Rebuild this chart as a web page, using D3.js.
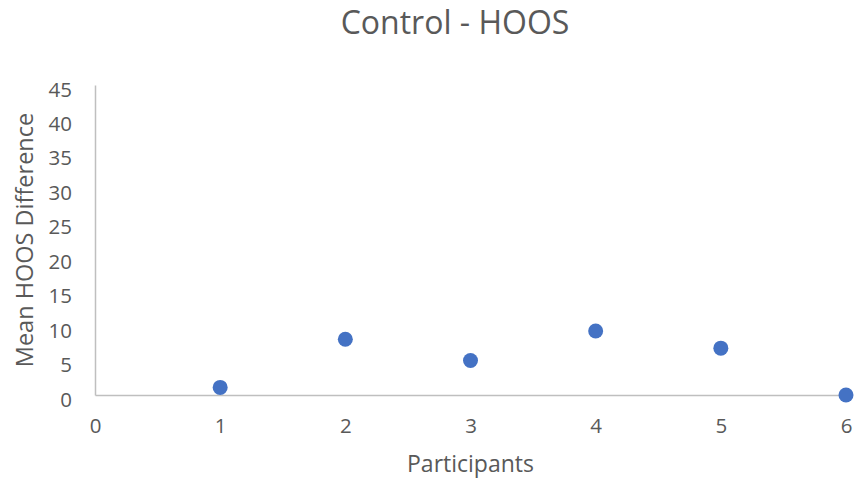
<!DOCTYPE html>
<html>
<head>
<meta charset="utf-8">
<script src="https://cdn.jsdelivr.net/npm/d3@7"></script>
<style>
  body { margin: 0; background: #fff; }
  svg { display: block; font-family: "Open Sans", sans-serif; }
</style>
</head>
<body>
<div id="chart"></div>
<script>
const participants = [1, 2, 3, 4, 5, 6];
const meanDiff = [1.1, 8.1, 5.0, 9.3, 6.8, 0.0];
const xTicks = [0, 1, 2, 3, 4, 5, 6];
const yTicks = [0, 5, 10, 15, 20, 25, 30, 35, 40, 45];

const width = 855;
const height = 482;
const margin = { top: 85, right: 9, bottom: 87, left: 95 };

const svg = d3.select("#chart").append("svg").attr("width", width).attr("height", height);

const x = d3.scaleLinear().domain([0, 6]).range([margin.left, width - margin.right]);
const y = d3.scaleLinear().domain([0, 45]).range([height - margin.bottom, margin.top]);

// y axis
const yAxis = svg.append("g")
  .attr("transform", `translate(${margin.left},0)`)
  .call(d3.axisLeft(y).tickValues(yTicks).tickFormat(d3.format("d")).tickSize(0).tickSizeOuter(0).tickPadding(23));
yAxis.select(".domain").attr("stroke", "#bfbfbf").attr("stroke-width", 1.5);
yAxis.selectAll("text")
  .attr("fill", "#595959")
  .attr("font-size", 20.5)
  .attr("font-family", "Open Sans")
  .attr("dy", 11);

// x axis
const xAxis = svg.append("g")
  .attr("transform", `translate(0,${height - margin.bottom})`)
  .call(d3.axisBottom(x).tickValues(xTicks).tickFormat(d3.format("d")).tickSize(0).tickSizeOuter(0));
xAxis.select(".domain").attr("stroke", "#bfbfbf").attr("stroke-width", 1.5);
xAxis.selectAll("text")
  .attr("fill", "#595959")
  .attr("font-size", 20.5)
  .attr("font-family", "Open Sans")
  .attr("y", 38)
  .attr("dy", 0);

// points
svg.append("g")
  .selectAll("circle")
  .data(participants)
  .join("circle")
  .attr("cx", (d) => x(d))
  .attr("cy", (d, i) => y(meanDiff[i]))
  .attr("r", 7.5)
  .attr("fill", "#4472c4");

// title
svg.append("text")
  .attr("x", 455)
  .attr("y", 33.5)
  .attr("text-anchor", "middle")
  .attr("fill", "#595959")
  .attr("font-size", 32)
  .text("Control - HOOS");

// axis titles
svg.append("text")
  .attr("x", (x(0) + x(6)) / 2)
  .attr("y", 472)
  .attr("text-anchor", "middle")
  .attr("fill", "#595959")
  .attr("font-size", 23)
  .text("Participants");

svg.append("text")
  .attr("transform", `translate(33,${(y(0) + y(45)) / 2}) rotate(-90)`)
  .attr("text-anchor", "middle")
  .attr("fill", "#595959")
  .attr("font-size", 23.5)
  .text("Mean HOOS Difference");
</script>
</body>
</html>
